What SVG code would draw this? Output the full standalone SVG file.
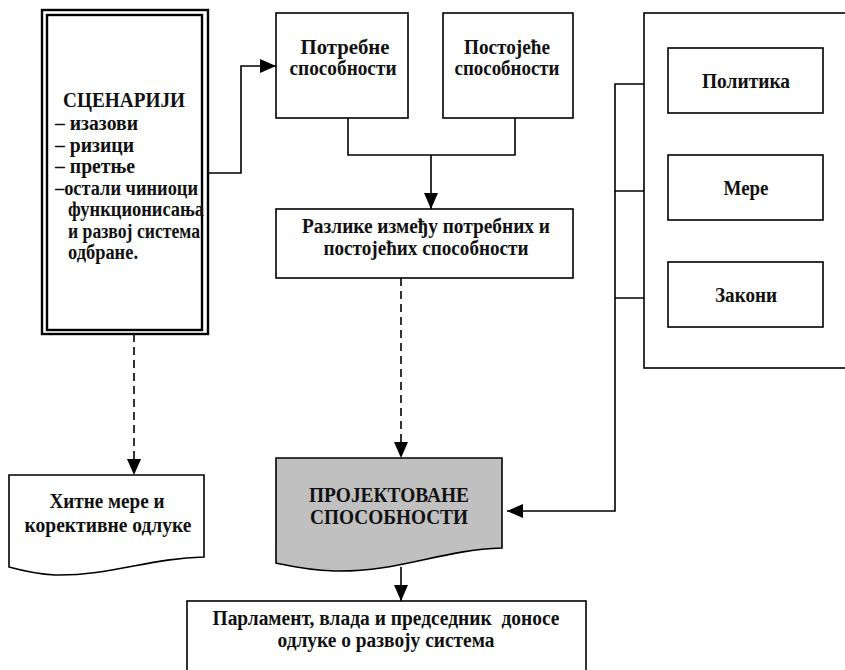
<svg xmlns="http://www.w3.org/2000/svg" width="845" height="670" viewBox="0 0 845 670">
<style>
.box{fill:#fff;stroke:#000;stroke-width:1.6}
.dbl{fill:none;stroke:#000;stroke-width:2.4}
.t{font-family:"Liberation Serif","Times New Roman",serif;font-weight:bold;font-size:20px;fill:#111}
.c{text-anchor:middle}
.ln{fill:none;stroke:#000;stroke-width:1.6}
.dash{stroke-dasharray:8,5}
</style>
<defs>
<marker id="ah" markerUnits="userSpaceOnUse" markerWidth="16" markerHeight="14" refX="16" refY="7" orient="auto" viewBox="0 0 16 14">
<path d="M0,0 L16,7 L0,14 Z" fill="#000"/>
</marker>
</defs>
<rect x="0" y="0" width="845" height="670" fill="#fff"/>

<g id="connectors">
<polyline class="ln" points="208,173 241,173 241,66 276,66" marker-end="url(#ah)"/>
<polyline class="ln" points="348,118 348,155 515,155 515,118"/>
<line class="ln" x1="431" y1="155" x2="431" y2="209" marker-end="url(#ah)"/>
<line class="ln dash" x1="401" y1="278" x2="401" y2="458" marker-end="url(#ah)"/>
<line class="ln dash" x1="134" y1="334" x2="134" y2="475" marker-end="url(#ah)"/>
<line class="ln" x1="401" y1="567" x2="401" y2="601" marker-end="url(#ah)"/>
<polyline class="ln" points="668,84 615,84 615,511 507,511" marker-end="url(#ah)"/>
<line class="ln" x1="615" y1="191" x2="668" y2="191"/>
<line class="ln" x1="615" y1="298" x2="668" y2="298"/>
</g>

<g id="scenariji">
<rect class="dbl" x="42" y="10" width="166" height="324"/>
<rect class="dbl" x="47" y="15" width="155" height="315"/>
<text class="t" x="63" y="107" textLength="122" lengthAdjust="spacingAndGlyphs">СЦЕНАРИЈИ</text>
<text class="t" x="55" y="130" textLength="83" lengthAdjust="spacingAndGlyphs">– изазови</text>
<text class="t" x="55" y="151.5" textLength="79" lengthAdjust="spacingAndGlyphs">– ризици</text>
<text class="t" x="55" y="173" textLength="80" lengthAdjust="spacingAndGlyphs">– претње</text>
<text class="t" x="55" y="194.5" textLength="143" lengthAdjust="spacingAndGlyphs">–остали чиниоци</text>
<text class="t" x="68" y="216" textLength="136" lengthAdjust="spacingAndGlyphs">функционисања</text>
<text class="t" x="68" y="237.5" textLength="132" lengthAdjust="spacingAndGlyphs">и развој система</text>
<text class="t" x="68" y="259" textLength="70" lengthAdjust="spacingAndGlyphs">одбране.</text>
</g>

<g id="potrebne">
<rect class="box" x="276" y="13" width="132" height="105"/>
<text class="t c" x="345" y="54" textLength="89" lengthAdjust="spacingAndGlyphs">Потребне</text>
<text class="t c" x="343" y="75" textLength="107" lengthAdjust="spacingAndGlyphs">способности</text>
</g>

<g id="postojece">
<rect class="box" x="443" y="13" width="130" height="105"/>
<text class="t c" x="507" y="54" textLength="86" lengthAdjust="spacingAndGlyphs">Постојеће</text>
<text class="t c" x="507" y="75" textLength="105" lengthAdjust="spacingAndGlyphs">способности</text>
</g>

<g id="razlike">
<rect class="box" x="276" y="209" width="297" height="69"/>
<text class="t c" x="426" y="233" textLength="248" lengthAdjust="spacingAndGlyphs">Разлике између потребних и</text>
<text class="t c" x="426" y="255" textLength="205" lengthAdjust="spacingAndGlyphs">постојећих способности</text>
</g>

<g id="okvir">
<rect class="box" x="644" y="13" width="210" height="355"/>
</g>

<g id="politika">
<rect class="box" x="668" y="48" width="155" height="65"/>
<text class="t c" x="746" y="88" textLength="88" lengthAdjust="spacingAndGlyphs">Политика</text>
</g>

<g id="mere">
<rect class="box" x="668" y="155" width="155" height="65"/>
<text class="t c" x="746" y="195" textLength="45" lengthAdjust="spacingAndGlyphs">Мере</text>
</g>

<g id="zakoni">
<rect class="box" x="668" y="262" width="155" height="65"/>
<text class="t c" x="746" y="302" textLength="62" lengthAdjust="spacingAndGlyphs">Закони</text>
</g>

<g id="hitne">
<path class="box" d="M9,475 H204 V557 C150,558 110,576 55,575 C35,574 20,570 9,567 Z"/>
<text class="t c" x="107" y="508" textLength="115" lengthAdjust="spacingAndGlyphs">Хитне мере и</text>
<text class="t c" x="108" y="532" textLength="167" lengthAdjust="spacingAndGlyphs">корективне одлуке</text>
</g>

<g id="projektovane">
<path class="box" d="M276,458 H502 V548 C440,550 400,572 335,571 C305,570 290,566 276,563 Z" style="fill:#c0c0c0"/>
<text class="t c" x="389" y="502" textLength="160" lengthAdjust="spacingAndGlyphs">ПРОЈЕКТОВАНЕ</text>
<text class="t c" x="389" y="524" textLength="158" lengthAdjust="spacingAndGlyphs">СПОСОБНОСТИ</text>
</g>

<g id="parlament">
<rect class="box" x="187" y="601" width="399" height="80"/>
<text class="t c" x="386" y="625" xml:space="preserve" textLength="347" lengthAdjust="spacingAndGlyphs">Парламент, влада и председник  доносе</text>
<text class="t c" x="386" y="647" textLength="217" lengthAdjust="spacingAndGlyphs">одлуке о развоју система</text>
</g>
</svg>
